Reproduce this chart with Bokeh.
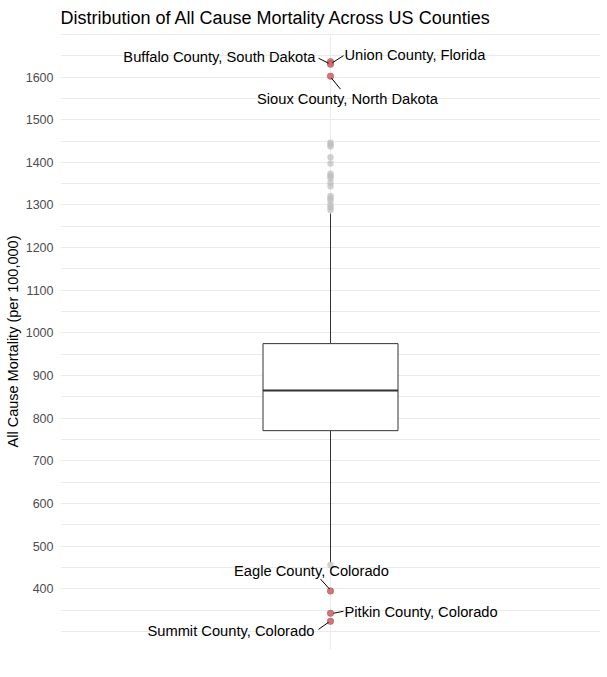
from bokeh.plotting import figure
from bokeh.models import Range1d, FixedTicker, ColumnDataSource
from bokeh.core.properties import value
from bokeh.embed import file_html
from bokeh.resources import INLINE

# ---- data ----
q1, median, q3 = 771, 865, 975
whisker_low, whisker_high = 462, 1280
outliers = [1446, 1442, 1437, 1412, 1397, 1373, 1368, 1363, 1352, 1344,
            1321, 1316, 1310, 1300, 1294, 1288,
            1602, 1630, 1636, 456, 395, 343, 324]
label_names = ["Union County, Florida", "Buffalo County, South Dakota",
               "Sioux County, North Dakota", "Eagle County, Colorado",
               "Pitkin County, Colorado", "Summit County, Colorado"]
label_values = [1636, 1630, 1602, 395, 343, 324]
y_ticks = list(range(400, 1700, 100))
y_minor = list(range(300, 1750, 50))

# ---- layout/style ----
W, H = 607, 677
left, right, top, bottom = 60, 7, 33, 28
frame_w = W - left - right
frame_h = H - top - bottom
x0, x1 = 0.4, 1.6
y0, y1 = 258, 1702
px_x = frame_w / (x1 - x0)
px_y = frame_h / (y1 - y0)

p = figure(width=W, height=H, output_backend="svg", toolbar_location=None,
           x_range=Range1d(x0, x1), y_range=Range1d(y0, y1),
           min_border_left=left, min_border_right=right,
           min_border_top=top, min_border_bottom=bottom)
p.outline_line_color = None
p.background_fill_color = "white"

p.title.text = "Distribution of All Cause Mortality Across US Counties"
p.title.text_font = "Liberation Sans"
p.title.text_font_size = "18px"
p.title.text_font_style = "normal"
p.title.text_color = "black"
p.title.align = "left"
p.title.standoff = 11

p.xaxis.visible = False
p.xaxis.ticker = FixedTicker(ticks=[1])
p.xgrid.grid_line_color = "#ebebeb"
p.xgrid.grid_line_width = 1

p.yaxis.ticker = FixedTicker(ticks=y_ticks, minor_ticks=y_minor)
p.yaxis.axis_line_color = None
p.yaxis.major_tick_line_color = None
p.yaxis.minor_tick_line_color = None
p.yaxis.major_tick_out = 0
p.yaxis.major_tick_in = 0
p.yaxis.minor_tick_out = 0
p.yaxis.minor_tick_in = 0
p.yaxis.major_label_text_font = "Liberation Sans"
p.yaxis.major_label_text_font_size = "12.5px"
p.yaxis.major_label_text_color = "#4d4d4d"
p.yaxis.major_label_standoff = 7
p.yaxis.axis_label = "All Cause Mortality (per 100,000)"
p.yaxis.axis_label_text_font = "Liberation Sans"
p.yaxis.axis_label_text_font_size = "14.5px"
p.yaxis.axis_label_text_font_style = "normal"
p.yaxis.axis_label_text_color = "black"
p.yaxis.axis_label_standoff = 2
p.ygrid.grid_line_color = "#ebebeb"
p.ygrid.grid_line_width = 1
p.ygrid.minor_grid_line_color = "#ebebeb"
p.ygrid.minor_grid_line_width = 1

# whiskers
p.segment(x0=[1, 1], y0=[q3, q1], x1=[1, 1], y1=[whisker_high, whisker_low],
          line_color="#333333", line_width=1)
# box
p.quad(left=[1 - 0.15], right=[1 + 0.15], bottom=[q1], top=[q3],
       fill_color="white", line_color="#333333", line_width=1)
p.segment(x0=[1 - 0.15], x1=[1 + 0.15], y0=[median], y1=[median],
          line_color="#333333", line_width=2)
# outliers
p.scatter(x=[1] * len(outliers), y=outliers, size=6.5,
          fill_color="#bdbdbd", fill_alpha=0.7, line_color=None)
# highlighted
p.scatter(x=[1] * len(label_values), y=label_values, size=6.5,
          fill_color="#d0666a", fill_alpha=0.85, line_color="#b04848",
          line_alpha=0.5, line_width=0.8)

# label placements in pixels relative to the point (screen coords, y down)
label_dx = [14, -15, 17, -19, 14, -16]
label_dy = [-6.5, -7, 23, -20, -1, 10]
label_align = ["left", "right", "center", "center", "left", "right"]
seg_start = [(2, 1), (-2, -1), (1, 2), (-1, -2), (3, 0), (-2, 1)]
seg_end = [(13, -6), (-12, -6), (10, 13), (-10, -12), (13, -2), (-12, 8)]

sx0 = [1 + s[0] / px_x for s in seg_start]
sy0 = [v - s[1] / px_y for v, s in zip(label_values, seg_start)]
sx1 = [1 + e[0] / px_x for e in seg_end]
sy1 = [v - e[1] / px_y for v, e in zip(label_values, seg_end)]
p.segment(x0=sx0, y0=sy0, x1=sx1, y1=sy1, line_color="black", line_width=1)

src = ColumnDataSource(dict(x=[1] * len(label_values), y=label_values,
                            text=label_names, dx=label_dx, dy=label_dy,
                            align=label_align))
p.text(x="x", y="y", text="text", x_offset="dx", y_offset="dy",
       text_align="align", text_baseline="middle", source=src,
       text_font=value("Liberation Sans"), text_font_size="14.7px",
       text_color="black")

open("out.html", "w").write(file_html(p, INLINE))
